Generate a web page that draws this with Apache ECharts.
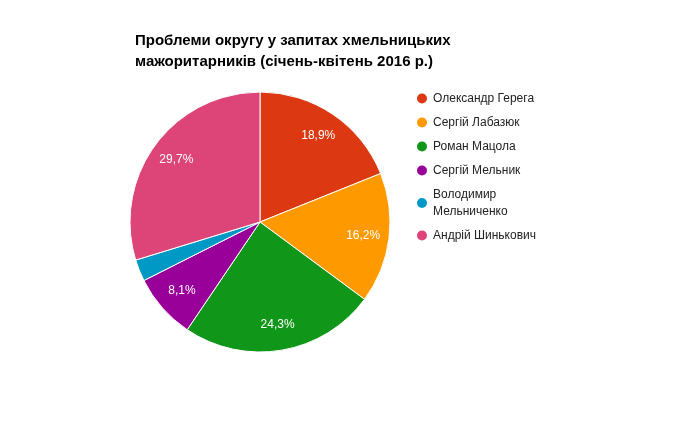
<!DOCTYPE html>
<html><head><meta charset="utf-8">
<script src="https://cdn.jsdelivr.net/npm/echarts@6/dist/echarts.min.js"></script>
<style>html,body{margin:0;padding:0;background:#fff}#c{width:680px;height:442px}</style>
</head><body><div id="c"></div>
<script>
const names = ['Олександр Герега','Сергій Лабазюк','Роман Мацола','Сергій Мельник','Володимир Мельниченко','Андрій Шинькович'];
const values = [7,6,9,3,1,11];
const colors = ['#dc3912','#ff9900','#109618','#990099','#0099c6','#dd4477'];
const total = values.reduce((a,b)=>a+b,0);
const data = names.map((n,i)=>({name:n,value:values[i]}));
const chart = echarts.init(document.getElementById('c'));
const fmt = p => { const pct = p.value/total*100; return pct < 5 ? '' : pct.toFixed(1).replace('.',',')+'%'; };
chart.setOption({
  animation:false,
  color:colors,
  title:{text:'Проблеми округу у запитах хмельницьких\nмажоритарників (січень-квітень 2016 р.)',left:130,top:25,
    textStyle:{fontFamily:'Arial, Liberation Sans',fontSize:15,fontWeight:'bold',color:'#000',lineHeight:21}},
  legend:{orient:'vertical',left:410,top:85,itemGap:7,icon:'circle',itemWidth:12,itemHeight:12,
    data:names,
    formatter:n=> n==='Володимир Мельниченко' ? 'Володимир\nМельниченко' : n,
    textStyle:{fontFamily:'Arial, Liberation Sans',fontSize:12,color:'#222',lineHeight:17}},
  series:[
    {type:'pie',center:[260,222],radius:[0,130],startAngle:90,clockwise:true,data:data,
     itemStyle:{borderColor:'#fff',borderWidth:1},label:{show:false},labelLine:{show:false},silent:true},
    {type:'pie',center:[260,222],radius:[0,202],startAngle:90,clockwise:true,data:data,silent:true,
     legendHoverLink:false,itemStyle:{color:'rgba(0,0,0,0)'},
     label:{show:true,position:'inside',formatter:fmt,color:'#fff',fontFamily:'Arial, Liberation Sans',fontSize:12}}
  ]
});
</script></body></html>
